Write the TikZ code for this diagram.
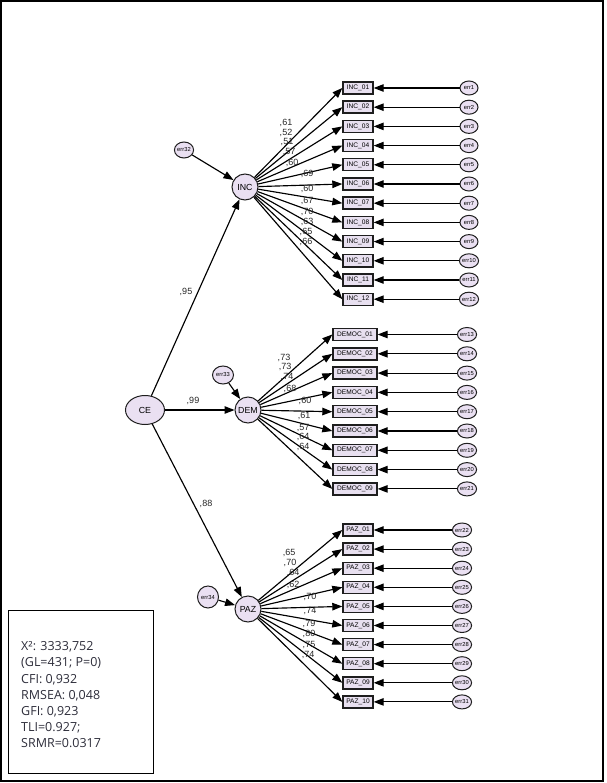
\documentclass[tikz,border=0pt]{standalone}
\usepackage{fontspec}
\setmainfont{Liberation Sans}
\newfontfamily\statsfont{Open Sans}
\usetikzlibrary{arrows.meta,shapes.geometric}
\definecolor{lav}{RGB}{234,224,242}
\definecolor{boxfill}{RGB}{232,224,240}
\definecolor{edgec}{RGB}{30,30,30}
\definecolor{statc}{RGB}{45,45,58}
\tikzset{
  lat/.style={circle, draw=edgec, fill=lav, line width=1pt, minimum size=26pt, inner sep=0pt, font=\fontsize{8.8}{9}\selectfont},
  errc/.style={ellipse, draw=edgec, fill=lav, line width=1pt, minimum width=18pt, minimum height=14pt, inner sep=0pt, font=\fontsize{5.8}{6}\selectfont},
  obs/.style={rectangle, draw=edgec, fill=boxfill, line width=1.4pt, minimum height=12pt, inner sep=0pt, font=\fontsize{6.6}{6.6}\selectfont},
  arr/.style={-{Triangle[length=10pt,width=7.5pt]}, line width=1.15pt, black},
  lab/.style={font=\fontsize{9}{9}\selectfont, text=black!85, inner sep=0pt},
}
\begin{document}
\begin{tikzpicture}[x=1pt,y=-1pt]
\useasboundingbox (0,0) rectangle (606,783);
\draw[line width=2pt] (1,1) rectangle (603,781);

% latent variables
\node[lat, ellipse, minimum width=39pt, minimum height=29pt] (CE) at (145,410) {CE};
\node[lat] (INC) at (245,187) {INC};
\node[lat] (DEM) at (248,410) {DEM};
\node[lat] (PAZ) at (248,609) {PAZ};
\node[errc, minimum width=18pt, minimum height=16pt] (e32) at (184,150) {err32};
\node[errc, minimum width=21pt, minimum height=18pt] (e33) at (223,375) {err33};
\node[errc, minimum width=21pt, minimum height=22pt] (e34) at (208,597) {err34};

\draw[arr] (CE) -- (INC);
\draw[arr] (CE) -- (DEM);
\draw[arr] (CE) -- (PAZ);
\draw[arr] (e32) -- (INC);
\draw[arr] (e33) -- (DEM);
\draw[arr] (e34) -- (PAZ);
\node[lab] (l95) at (186,292) {,95};
\node[lab] (l99) at (193,401) {,99};
\node[lab] (l88) at (206,504) {,88};

% INC indicators
\foreach \i in {1,...,12}{
  \pgfmathsetmacro{\yy}{88+19.2*(\i-1)}
  \pgfmathtruncatemacro{\n}{\i}
  \node[obs, minimum width=30pt] (i\i) at (358,\yy) {INC\_\ifnum\n<10 0\fi\n};
  \node[errc] (e\i) at (469,\yy) {err\n};
  \draw[arr] (INC) -- (i\i.west);
  \draw[arr] (e\i) -- (i\i.east);
}
\foreach \x/\y/\t [count=\k] in {286/123/61,286/133/52,287/142/51,289/152/57,292/163/60,307/174/69,307/189/60,307/201/67,307/212/70,307/222/63,306/232/65,306/242/66}{
  \node[lab] (li\k) at (\x,\y) {,\t};
}

% DEM indicators
\foreach \i in {1,...,9}{
  \pgfmathsetmacro{\yy}{334.5+19.3*(\i-1)}
  \pgfmathtruncatemacro{\m}{\i+12}
  \node[obs, minimum width=44pt] (d\i) at (355,\yy) {DEMOC\_0\i};
  \node[errc] (e\m) at (467,\yy) {err\m};
  \draw[arr] (DEM) -- (d\i.west);
  \draw[arr] (e\m) -- (d\i.east);
}
\foreach \x/\y/\t [count=\k] in {284/358/73,285/367/73,287/377/74,290/389/68,305/401/60,304/416/61,303/428/57,303/437/64,303/447/64}{
  \node[lab] (ld\k) at (\x,\y) {,\t};
}

% PAZ indicators
\foreach \i in {1,...,10}{
  \pgfmathsetmacro{\yy}{530+19.1*(\i-1)}
  \pgfmathtruncatemacro{\m}{\i+21}
  \pgfmathtruncatemacro{\n}{\i}
  \node[obs, minimum width=30pt] (p\i) at (358,\yy) {PAZ\_\ifnum\n<10 0\fi\n};
  \node[errc] (e\m) at (462,\yy) {err\m};
  \draw[arr] (PAZ) -- (p\i.west);
  \draw[arr] (e\m) -- (p\i.east);
}
\foreach \x/\y/\t [count=\k] in {289/553/65,290/563/70,293/573/64,293/585/62,310/597/70,310/611/74,309/624/79,309/634/80,309/645/75,308/655/74}{
  \node[lab] (lp\k) at (\x,\y) {,\t};
}

% fit statistics
\node[draw, line width=1pt, minimum width=145pt, minimum height=163pt, inner sep=0pt] (statbox) at (80.5,691.5) {};
\node[anchor=west, align=left, inner sep=0pt, text=statc, font=\statsfont\fontsize{12.5}{16.1}\selectfont] (stats) at (21,694.7)
 {X²: 3333,752\\(GL=431; P=0)\\CFI: 0,932\\RMSEA: 0,048\\GFI: 0,923\\TLI=0.927;\\SRMR=0.0317};
\end{tikzpicture}
\end{document}
